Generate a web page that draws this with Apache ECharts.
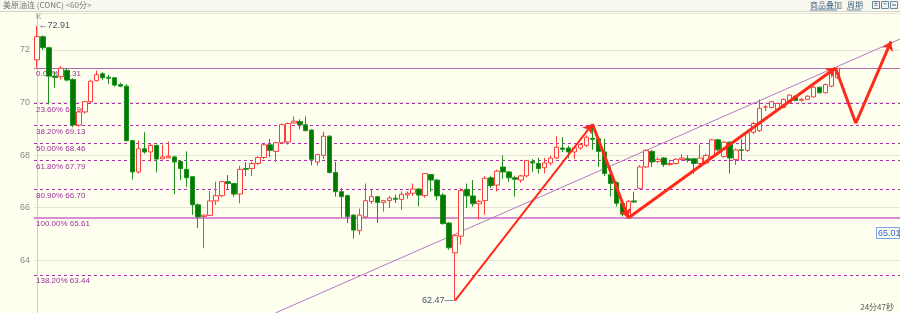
<!DOCTYPE html>
<html><head><meta charset="utf-8">
<script src="https://cdn.jsdelivr.net/npm/echarts@6/dist/echarts.min.js"></script>
<style>html,body{margin:0;padding:0;background:#fffff0}#c{width:900px;height:313px}</style>
</head><body><div id="c"></div>
<script>
// ---- data (60-minute candles, 美原油连 CONC) ----
const opens = [71.62,72.50,72.08,71.00,70.98,71.22,70.87,69.14,69.64,70.03,
70.83,71.09,70.96,70.94,70.68,70.62,68.55,67.36,68.24,68.12,
68.37,67.86,67.90,67.93,67.76,67.46,67.18,66.11,65.67,65.71,
66.26,66.46,66.99,66.92,66.52,67.49,67.49,67.68,67.91,68.39,
68.14,68.47,68.50,69.22,69.28,69.15,68.95,67.74,67.99,68.72,
67.34,66.61,66.46,65.72,65.13,65.65,66.24,66.42,66.20,66.27,
66.36,66.32,66.49,66.55,66.71,66.46,67.26,67.05,66.48,65.42,
64.29,64.92,66.70,66.45,66.15,66.27,67.14,66.86,67.55,67.36,
67.14,67.05,67.21,67.76,67.68,67.52,67.70,67.89,68.27,68.27,
68.12,68.27,68.37,68.64,68.62,68.12,67.26,66.96,66.17,65.67,
66.26,66.74,67.55,68.14,67.76,67.89,67.64,67.68,67.84,67.86,
67.86,67.68,67.70,67.95,68.58,67.95,68.49,67.83,68.20,68.18,
68.87,68.93,69.83,69.81,69.74,69.81,70.00,70.24,70.08,70.12,
70.21,70.58,70.37,70.62,70.94];
const closes = [72.50,72.08,71.00,70.95,71.30,70.85,69.14,69.64,70.03,70.81,
71.06,70.94,70.92,70.66,70.62,68.55,67.36,68.24,68.12,68.37,
67.85,67.93,67.96,67.74,67.49,67.14,66.11,65.65,65.72,66.26,
66.46,66.99,66.92,66.52,67.46,67.46,67.68,67.91,68.39,68.18,
68.47,69.16,69.20,69.29,69.15,68.93,67.84,68.02,68.72,67.34,
66.61,66.42,65.67,65.15,65.72,66.27,66.42,66.20,66.27,66.37,
66.32,66.51,66.55,66.71,66.48,67.30,67.05,66.45,65.40,64.48,
64.94,66.65,66.45,66.15,66.24,67.12,66.84,67.39,67.36,67.14,
67.08,67.21,67.79,67.70,67.49,67.70,67.89,68.30,68.22,68.12,
68.28,68.40,68.68,68.60,68.14,67.30,66.92,66.17,65.76,66.24,
66.22,67.55,68.18,67.74,67.84,67.64,67.68,67.84,67.89,67.81,
67.68,67.89,67.99,68.58,68.20,68.49,67.89,68.20,68.18,68.87,
69.20,69.78,69.83,70.03,69.96,70.12,70.28,70.08,70.12,70.24,
70.58,70.37,70.68,71.18,71.30];
const lows = [71.32,72.00,69.93,70.56,70.87,70.80,69.06,69.07,69.58,69.98,
70.80,70.85,70.70,70.60,70.58,68.52,67.07,67.30,68.05,67.75,
67.34,67.85,67.88,66.51,67.05,66.80,65.73,65.23,64.46,65.68,
66.11,66.40,66.67,66.42,66.17,67.20,67.20,67.62,67.85,67.93,
67.74,68.44,68.40,69.20,68.99,68.90,67.61,67.60,67.85,67.30,
66.42,65.64,65.42,64.83,64.97,65.60,66.15,65.42,65.85,65.98,
66.18,65.92,66.35,66.45,66.05,66.38,66.61,66.28,65.35,64.40,
62.47,64.60,65.98,66.05,65.55,65.73,66.75,66.62,67.10,66.98,
66.42,66.95,67.15,67.35,67.30,67.30,67.60,67.85,68.12,67.88,
67.86,68.20,68.30,68.20,67.55,67.20,66.42,66.05,65.67,65.61,
66.18,66.70,67.50,67.55,67.70,67.55,67.60,67.64,67.78,67.72,
67.30,67.60,67.65,67.90,68.15,67.90,67.30,67.62,67.80,68.12,
68.80,68.88,69.67,69.78,69.70,69.78,69.96,70.05,70.03,70.10,
70.18,70.34,70.34,70.58,70.90];
const highs = [72.91,72.55,72.12,71.18,71.38,71.30,70.92,69.70,70.06,70.84,
71.21,71.15,71.05,70.97,70.75,70.70,68.58,68.55,68.87,68.45,
68.40,68.39,68.52,67.98,67.80,68.14,67.20,66.16,65.74,66.64,
66.99,67.02,67.24,66.95,67.59,67.73,67.75,67.95,68.42,68.62,
68.50,69.20,69.24,69.47,69.36,69.47,68.98,68.05,68.89,68.75,
67.75,66.74,66.50,65.75,65.97,66.92,66.68,66.45,66.30,66.45,
66.50,66.62,66.62,66.92,66.75,67.32,67.28,67.10,66.55,65.45,
64.98,66.75,66.92,67.05,66.30,67.20,67.20,67.45,67.99,67.40,
67.22,67.25,67.82,67.85,67.90,67.90,67.98,68.72,68.68,68.35,
68.35,68.45,68.75,69.18,68.65,68.62,67.55,67.00,66.20,66.30,
66.61,67.62,68.22,68.20,67.92,67.92,67.82,67.88,68.03,67.99,
67.90,68.40,68.05,68.62,68.62,68.52,68.52,68.25,68.60,68.90,
69.25,70.12,69.90,70.06,69.99,70.15,70.31,70.27,70.16,70.27,
70.62,70.60,70.72,71.22,71.31];
const slotCount = 145;               // candle slots incl. empty future area
const yTickValues = [64, 66, 68, 70, 72];
const fibPct = ['0.00%','23.60%','38.20%','50.00%','61.80%','80.90%','100.00%','138.20%'];
const fibVal = [71.31, 69.96, 69.13, 68.46, 67.79, 66.70, 65.61, 63.44];
const trendLine = [[40, 62.01], [144.5, 72.41]];
const arrowUp1 = [[70, 62.47], [93, 69.18]];
const arrowDown1 = [[93, 69.18], [99, 65.61]];
const arrowUp2 = [[99, 65.61], [133.7, 71.31]];
const projection = [[133.7, 71.31], [137.1, 69.21], [143.0, 72.32]];
const highMark = [0, 72.91];
const lowMark = [70, 62.47];
const titleText = '美原油连 (CONC) <60分>';
const lastPrice = '65.01';
const countdown = '24分47秒';

// ---- chart ----
const chart = echarts.init(document.getElementById('c'));
const cats = Array.from({length: slotCount}, (_, i) => String(i));
const candleData = opens.map((o, i) => [o, closes[i], lows[i], highs[i]]);
const FONT = 'Liberation Sans, DejaVu Sans, sans-serif';
const CJK = 'Noto Sans CJK SC, sans-serif';

const fibLines = fibVal.map((v, i) => {
  const solid = fibPct[i] === '0.00%' || fibPct[i] === '100.00%';
  return {
    yAxis: v,
    lineStyle: solid
      ? {type: 'solid', color: i === 0 ? '#b066b0' : '#d38fcf', width: i === 0 ? 1.2 : 2}
      : {type: [3, 3], color: '#b02cb0', width: 1, opacity: 1},
    label: {formatter: fibPct[i] + ' ' + v.toFixed(2)}
  };
});

function seg(p, q, arrow, w) {
  return [{coord: p, symbol: 'none'}, {coord: q, symbol: arrow ? 'arrow' : 'none', symbolSize: 9,
    lineStyle: {color: '#ff2a1a', width: w, type: 'solid'}}];
}

chart.setOption({
  animation: false,
  backgroundColor: '#fffff0',
  grid: {left: 34, top: 13, width: 866, height: 303, containLabel: false},
  xAxis: [
    {type: 'category', data: cats, show: false, boundaryGap: true},
    {type: 'value', min: -0.5, max: slotCount - 0.5, show: false}
  ],
  yAxis: {
    type: 'value', min: 62, max: 73.4, interval: 2, scale: true,
    axisLine: {show: true, lineStyle: {color: '#cfcfc4'}},
    axisTick: {show: false},
    axisLabel: {color: '#8a8a8a', fontSize: 9, margin: 4, fontFamily: FONT,
      showMinLabel: false, showMaxLabel: false},
    splitLine: {show: true, lineStyle: {color: '#e4e4d6', width: 1}}
  },
  series: [
    {
      name: 'trend', type: 'line', xAxisIndex: 1, data: trendLine, z: 1,
      symbol: 'none', lineStyle: {color: '#b477c4', width: 1}, silent: true,
      markLine: {
        silent: true, symbol: 'none', z: 1,
        lineStyle: {color: '#b02cb0', type: 'dashed', width: 1},
        label: {position: 'insideStartBottom', color: '#9c2f9c', fontSize: 8,
          fontFamily: FONT, distance: [2, 2]},
        data: fibLines
      }
    },
    {
      name: 'K', type: 'candlestick', data: candleData, barWidth: 5, z: 3,
      itemStyle: {color: '#fffff0', color0: '#007a00', borderColor: '#ff3b3b',
        borderColor0: '#1f8f1f', borderWidth: 1},
      markPoint: {
        symbol: 'circle', symbolSize: 1, itemStyle: {color: 'rgba(0,0,0,0)'},
        data: [
          {coord: highMark, label: {show: true, position: 'right', distance: 1,
            formatter: '←' + highMark[1].toFixed(2), color: '#445566', fontSize: 9, fontFamily: FONT}},
          {coord: lowMark, label: {show: true, position: 'left', distance: 1,
            formatter: lowMark[1].toFixed(2) + '—', color: '#445566', fontSize: 9, fontFamily: FONT}}
        ]
      }
    },
    {
      name: 'arrows', type: 'line', xAxisIndex: 1, data: [], z: 5, silent: true,
      markLine: {
        silent: true, z: 6, label: {show: false},
        lineStyle: {color: '#ff2a1a', width: 2, type: 'solid'},
        data: [
          seg(arrowUp1[0], arrowUp1[1], true, 2),
          seg(arrowDown1[0], arrowDown1[1], true, 3),
          seg(arrowUp2[0], arrowUp2[1], true, 3),
          seg(projection[0], projection[1], false, 3),
          seg(projection[1], projection[2], true, 3)
        ]
      }
    }
  ],
  graphic: [
    {type: 'rect', left: 0, top: 0, shape: {width: 900, height: 11}, style: {fill: '#f8f8ee'}, z: 10},
    {type: 'line', shape: {x1: 0, y1: 11.5, x2: 900, y2: 11.5}, style: {stroke: '#d6d6cc', lineWidth: 1}, z: 10},
    {type: 'text', left: 3, top: 1, style: {text: titleText, fill: '#7a7a7a', font: '8px ' + CJK}, z: 11},
    {type: 'text', left: 810, top: 1, style: {text: '商品叠加', fill: '#4a6a8a', font: '8px ' + CJK}, z: 11},
    {type: 'line', shape: {x1: 810, y1: 10, x2: 837, y2: 10}, style: {stroke: '#6a8aaa', lineWidth: 1}, z: 11},
    {type: 'text', left: 847, top: 1, style: {text: '周期', fill: '#4a6a8a', font: '8px ' + CJK}, z: 11},
    {type: 'line', shape: {x1: 847, y1: 10, x2: 861, y2: 10}, style: {stroke: '#6a8aaa', lineWidth: 1}, z: 11},
    {type: 'rect', shape: {x: 872.5, y: 1.5, width: 7, height: 7}, style: {fill: '#eef2f2', stroke: '#6a8a9a'}, z: 11},
    {type: 'text', left: 874, top: 1, style: {text: '±', fill: '#4a6a7a', font: '7px ' + FONT}, z: 12},
    {type: 'rect', shape: {x: 881.5, y: 1.5, width: 7, height: 7}, style: {fill: '#eef2f2', stroke: '#6a8a9a'}, z: 11},
    {type: 'text', left: 883, top: 1, style: {text: '÷', fill: '#4a6a7a', font: '7px ' + FONT}, z: 12},
    {type: 'rect', shape: {x: 890.5, y: 1.5, width: 7, height: 7}, style: {fill: '#eef2f2', stroke: '#6a8a9a'}, z: 11},
    {type: 'line', shape: {x1: 892, y1: 5, x2: 896, y2: 5}, style: {stroke: '#4a6a7a', lineWidth: 1}, z: 12},
    {type: 'text', left: 36, top: 13, style: {text: 'K', fill: '#888888', font: '8px ' + FONT}, z: 11},
    {type: 'rect', shape: {x: 876.5, y: 227.5, width: 23, height: 11}, style: {fill: '#fffff0', stroke: '#7aa2ea', lineWidth: 1}, z: 11},
    {type: 'text', left: 878, top: 229, style: {text: lastPrice, fill: '#3568c8', font: '9px ' + FONT}, z: 12},
    {type: 'text', right: 6, top: 303, style: {text: countdown, fill: '#555555', font: '8px ' + CJK}, z: 11}
  ]
});
</script>
</body></html>
